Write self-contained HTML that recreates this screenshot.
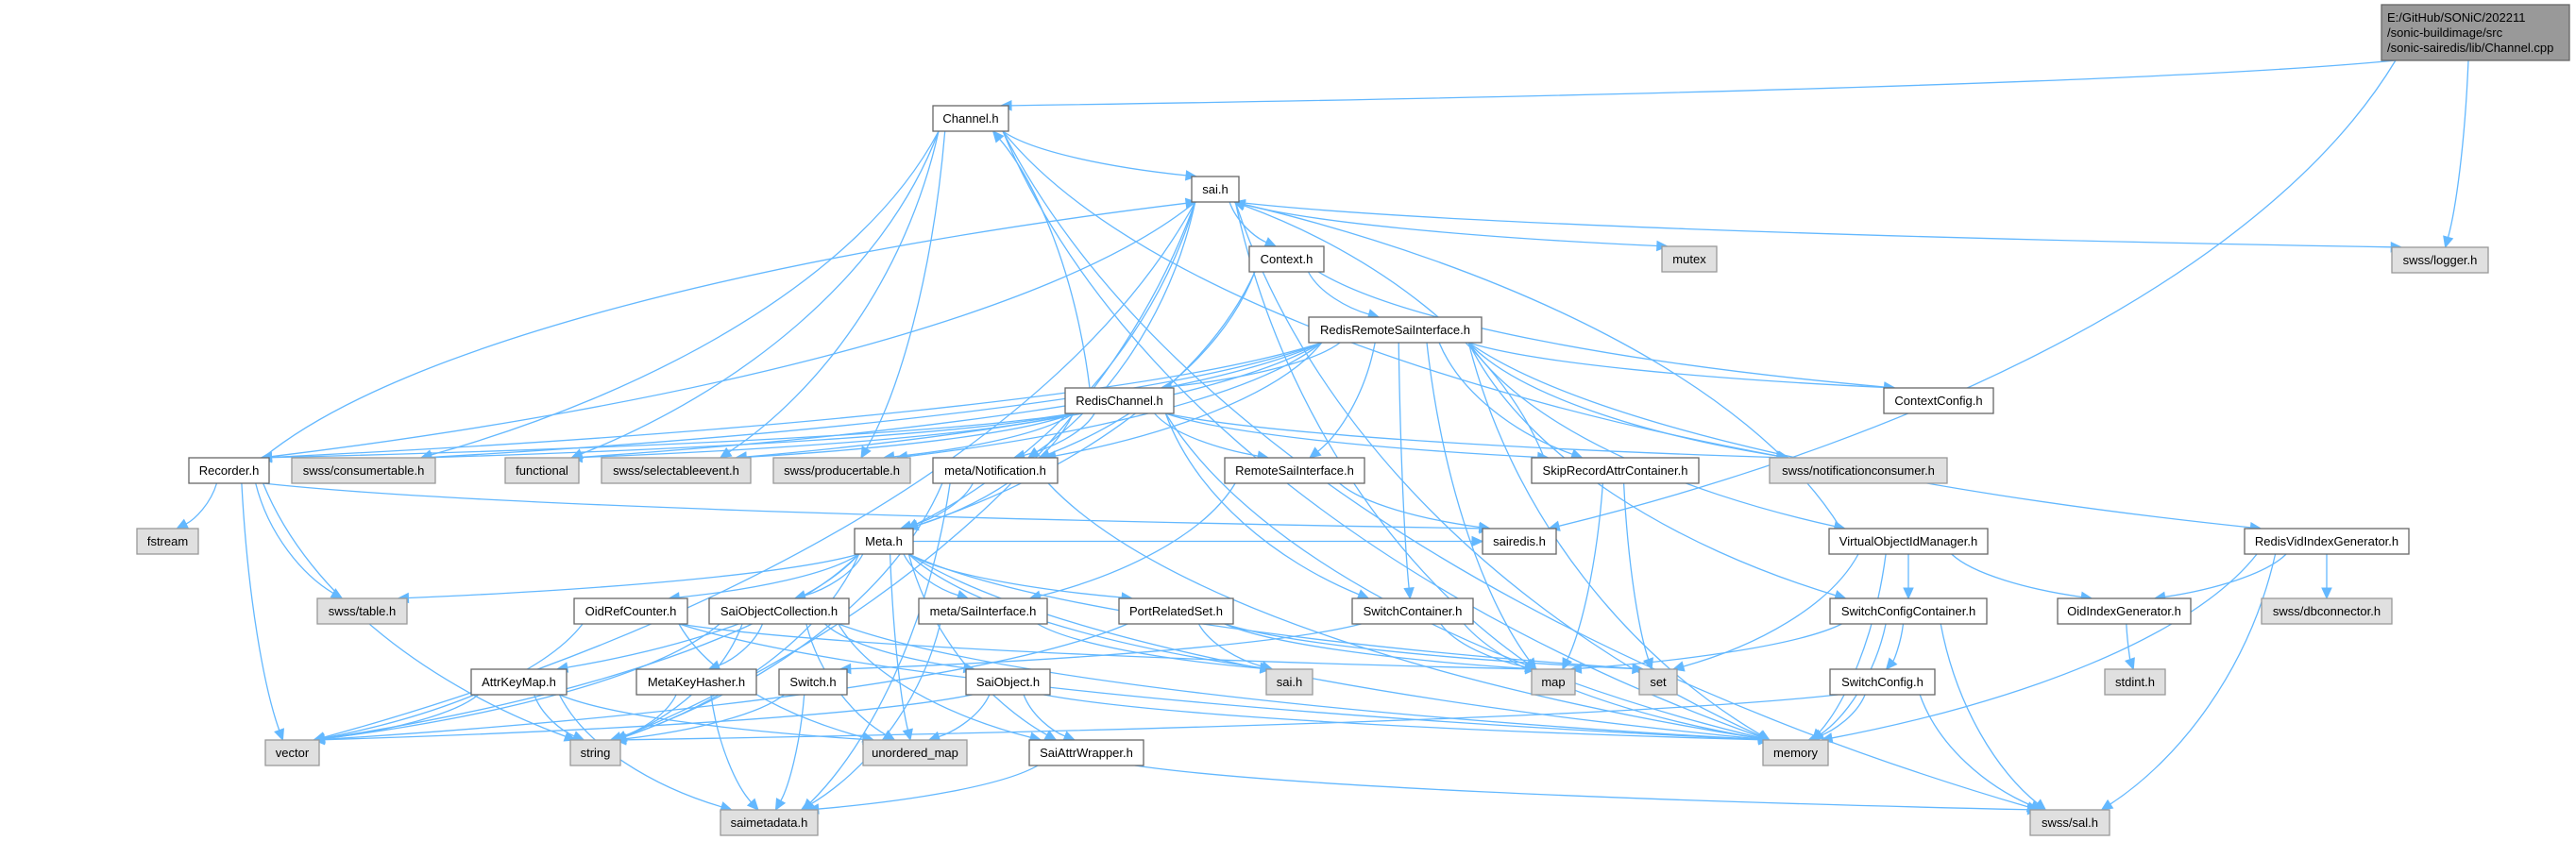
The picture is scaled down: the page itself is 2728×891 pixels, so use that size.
<!DOCTYPE html>
<html><head><meta charset="utf-8"><style>
html,body{margin:0;padding:0;background:#fff;}
svg{display:block;}
text{font-family:"Liberation Sans",sans-serif;font-size:13px;fill:#000;}
</style></head>
<body>
<svg id="g" width="2728" height="891" viewBox="0 0 2728 891" xmlns="http://www.w3.org/2000/svg">
<g id="edges"></g>
<g id="nodes"></g>
</svg>
<script>
const nodeIds = ["root","Channel","sai","mutex","logger","Context","RRSI","ContextConfig","RedisChannel","Recorder","consumertable","functional","selectableevent","producertable","notifcons","Notification","RemoteSai","SkipRecord","fstream","Meta","sairedis","VOIM","RVIG","swsstable","OidRefCounter","SOC","metaSaiIf","PortRelatedSet","SwitchContainer","SCC","OidIndexGen","dbconnector","AttrKeyMap","MetaKeyHasher","Switch","SaiObject","saigray","map","set","SwitchConfig","stdint","vector","string","unordered_map","SaiAttrWrapper","memory","saimetadata","swsssal"];
const nodeLabels = ["E:/GitHub/SONiC/202211\n/sonic-buildimage/src\n/sonic-sairedis/lib/Channel.cpp","Channel.h","sai.h","mutex","swss/logger.h","Context.h","RedisRemoteSaiInterface.h","ContextConfig.h","RedisChannel.h","Recorder.h","swss/consumertable.h","functional","swss/selectableevent.h","swss/producertable.h","swss/notificationconsumer.h","meta/Notification.h","RemoteSaiInterface.h","SkipRecordAttrContainer.h","fstream","Meta.h","sairedis.h","VirtualObjectIdManager.h","RedisVidIndexGenerator.h","swss/table.h","OidRefCounter.h","SaiObjectCollection.h","meta/SaiInterface.h","PortRelatedSet.h","SwitchContainer.h","SwitchConfigContainer.h","OidIndexGenerator.h","swss/dbconnector.h","AttrKeyMap.h","MetaKeyHasher.h","Switch.h","SaiObject.h","sai.h","map","set","SwitchConfig.h","stdint.h","vector","string","unordered_map","SaiAttrWrapper.h","memory","saimetadata.h","swss/sal.h"];
const nodeX1 = [2522,988,1262,1760,2533,1323,1386,1995,1128,200,309,535,637,819,1874,988,1297,1622,145,905,1570,1937,2377,336,608,751,973,1185,1432,1938,2179,2395,499,674,825,1023,1341,1622,1736,1938,2229,281,604,914,1090,1867,763,2150];
const nodeX2 = [2721,1068,1312,1818,2635,1402,1569,2111,1243,285,461,613,795,964,2062,1120,1445,1799,210,967,1648,2105,2551,431,728,899,1109,1306,1560,2104,2320,2533,600,801,897,1112,1390,1668,1776,2049,2293,338,657,1024,1211,1936,866,2234];
const nodeY1 = [5,112,187,261,262,261,336,411,411,485,485,485,485,485,485,485,485,485,560,560,560,560,560,634,634,634,634,634,634,634,634,634,709,709,709,709,709,709,709,709,709,784,784,784,784,784,858,858];
const nodeKinds = ["r","w","w","g","g","w","w","w","w","w","g","g","g","g","g","w","w","w","g","w","w","w","w","g","w","w","w","w","w","w","w","g","w","w","w","w","g","g","g","w","g","g","g","g","w","g","g","g"];
const edgeFrom = ["root","root","root","Channel","Channel","Channel","Channel","Channel","Channel","Channel","Channel","sai","sai","sai","sai","sai","sai","sai","sai","sai","sai","Context","Context","Context","Context","RRSI","RRSI","RRSI","RRSI","RRSI","RRSI","RRSI","RRSI","RRSI","RRSI","RRSI","RRSI","RRSI","RRSI","RRSI","RRSI","RRSI","RedisChannel","RedisChannel","RedisChannel","RedisChannel","RedisChannel","RedisChannel","RedisChannel","RedisChannel","RedisChannel","RedisChannel","RedisChannel","RedisChannel","RedisChannel","Recorder","Recorder","Recorder","Recorder","Recorder","Recorder","Notification","Notification","Notification","Notification","RemoteSai","RemoteSai","SkipRecord","SkipRecord","SkipRecord","Meta","Meta","Meta","Meta","Meta","Meta","Meta","Meta","Meta","Meta","Meta","Meta","Meta","Meta","metaSaiIf","metaSaiIf","PortRelatedSet","PortRelatedSet","PortRelatedSet","PortRelatedSet","OidRefCounter","OidRefCounter","OidRefCounter","OidRefCounter","SOC","SOC","SOC","SOC","SOC","SOC","SOC","AttrKeyMap","AttrKeyMap","AttrKeyMap","AttrKeyMap","MetaKeyHasher","MetaKeyHasher","Switch","Switch","SaiObject","SaiObject","SaiObject","SaiObject","SaiAttrWrapper","SaiAttrWrapper","SwitchContainer","SwitchContainer","SwitchContainer","VOIM","VOIM","VOIM","VOIM","VOIM","SCC","SCC","SCC","SCC","SwitchConfig","SwitchConfig","SwitchConfig","OidIndexGen","RVIG","RVIG","RVIG","RVIG"];
const edgeTo = ["Channel","logger","sairedis","sai","consumertable","functional","selectableevent","producertable","notifcons","memory","swsssal","mutex","logger","Context","Notification","Meta","map","vector","string","memory","Recorder","RRSI","ContextConfig","Notification","Meta","RedisChannel","ContextConfig","RemoteSai","SkipRecord","SwitchContainer","VOIM","SCC","RVIG","Notification","Recorder","consumertable","functional","selectableevent","producertable","notifcons","map","memory","Channel","Notification","Meta","RemoteSai","SkipRecord","SwitchContainer","Recorder","consumertable","functional","selectableevent","producertable","notifcons","memory","sai","fstream","swsstable","vector","string","sairedis","Meta","saimetadata","string","memory","metaSaiIf","sairedis","sai","map","set","swsstable","OidRefCounter","SOC","AttrKeyMap","metaSaiIf","PortRelatedSet","vector","string","saigray","set","memory","SaiAttrWrapper","unordered_map","sairedis","saigray","saimetadata","saigray","map","set","vector","vector","map","memory","unordered_map","SaiObject","MetaKeyHasher","vector","string","unordered_map","SaiAttrWrapper","memory","vector","string","saimetadata","unordered_map","string","saimetadata","string","saimetadata","SaiAttrWrapper","unordered_map","vector","memory","saimetadata","swsssal","Switch","map","memory","SCC","OidIndexGen","memory","set","sai","SwitchConfig","memory","swsssal","map","memory","swsssal","string","stdint","OidIndexGen","dbconnector","memory","swsssal"];

const NS = "http://www.w3.org/2000/svg";
const nodeH = 27;
function box(i){ const y1=nodeY1[i]; const y2 = nodeKinds[i]==="r" ? 64 : y1+nodeH; return {x1:nodeX1[i],x2:nodeX2[i],y1:y1,y2:y2,cx:(nodeX1[i]+nodeX2[i])/2,cy:(y1+y2)/2}; }
function clamp(v,m){ return Math.max(-m,Math.min(m,v)); }
const eg=document.getElementById('edges');
for(let k=0;k<edgeFrom.length;k++){
  const a=box(nodeIds.indexOf(edgeFrom[k])), b=box(nodeIds.indexOf(edgeTo[k]));
  let s,e,c1,c2;
  const ahw=(a.x2-a.x1)/2, bhw=(b.x2-b.x1)/2;
  if(b.y1>a.y2+5){
    s=[a.cx+clamp((b.cx-a.cx)*0.2,ahw*0.85), a.y2];
    e=[b.cx+clamp((a.cx-b.cx)*0.15,bhw*0.8), b.y1];
  } else if(a.y1>b.y2+5){
    s=[a.cx+clamp((b.cx-a.cx)*0.2,ahw*0.85), a.y1];
    e=[b.cx+clamp((a.cx-b.cx)*0.15,bhw*0.8), b.y2];
  } else {
    const right=b.cx>a.cx;
    s=[right?a.x2:a.x1, a.cy];
    e=[right?b.x1:b.x2, b.cy];
  }
  const dx=e[0]-s[0], dy=e[1]-s[1];
  c1=[s[0]+dx*0.15, s[1]+dy*0.45];
  c2=[e[0]-dx*0.45, e[1]-dy*0.2];
  let vx=e[0]-c2[0], vy=e[1]-c2[1]; const L=Math.hypot(vx,vy)||1; vx/=L; vy/=L;
  const bx=e[0]-vx*11, by=e[1]-vy*11;
  const p=document.createElementNS(NS,'path');
  
  
  p.setAttribute('d',`M${s[0]},${s[1]} C${c1[0]},${c1[1]} ${c2[0]},${c2[1]} ${bx},${by}`);
  p.setAttribute('fill','none'); p.setAttribute('stroke','#63b8ff'); p.setAttribute('stroke-width','1.3');
  eg.appendChild(p);
  const h=document.createElementNS(NS,'polygon');
  
  
  const nx=-vy*5, ny=vx*5;
  h.setAttribute('points',`${e[0]},${e[1]} ${bx+nx},${by+ny} ${bx-nx},${by-ny}`);
  h.setAttribute('fill','#63b8ff'); h.setAttribute('stroke','#63b8ff');
  eg.appendChild(h);
}
const ng=document.getElementById('nodes');
for(let i=0;i<nodeIds.length;i++){
  const b=box(i), kind=nodeKinds[i];
  const g=document.createElementNS(NS,'g');
  
  
  const r=document.createElementNS(NS,'rect');
  
  
  r.setAttribute('x',b.x1); r.setAttribute('y',b.y1); r.setAttribute('width',b.x2-b.x1); r.setAttribute('height',b.y2-b.y1);
  r.setAttribute('fill', kind==='r'?'#999999':kind==='g'?'#e0e0e0':'#ffffff');
  r.setAttribute('stroke', kind==='g'?'#999999':'#666666');
  r.setAttribute('stroke-width','1.3');
  g.appendChild(r);
  const lines=nodeLabels[i].split('\n');
  lines.forEach((ln,j)=>{
    const t=document.createElementNS(NS,'text');
    
    
    if(kind==='r'){ t.setAttribute('x',b.x1+6); t.setAttribute('y',b.y1+18+j*16); }
    else { t.setAttribute('x',b.cx); t.setAttribute('y',b.cy+4.5); t.setAttribute('text-anchor','middle'); }
    t.textContent=ln;
    g.appendChild(t);
  });
  ng.appendChild(g);
}
</script>
</body></html>
